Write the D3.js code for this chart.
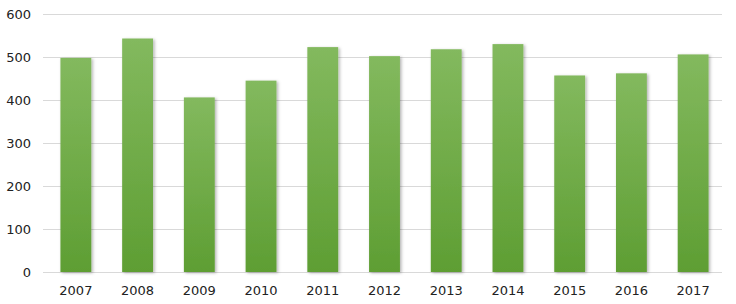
<!DOCTYPE html>
<html>
<head>
<meta charset="utf-8">
<script src="https://cdn.jsdelivr.net/npm/d3@7"></script>
<style>
  body { margin: 0; background: #fff; }
  svg text { font-family: "DejaVu Sans", Verdana, sans-serif; font-size: 13px; fill: #222; }
</style>
</head>
<body>
<div id="chart"></div>
<script>
const years = ["2007","2008","2009","2010","2011","2012","2013","2014","2015","2016","2017"]
const values = [498, 543, 406, 445, 523, 502, 518, 530, 457, 462, 506]
const yTicks = [0, 100, 200, 300, 400, 500, 600]

const width = 736, height = 304
const margin = {top: 14, right: 14, bottom: 32, left: 43}

const svg = d3.select("#chart").append("svg")
    .attr("width", width)
    .attr("height", height)

const defs = svg.append("defs")
const grad = defs.append("linearGradient")
    .attr("id", "barGrad")
    .attr("x1", 0).attr("y1", 0).attr("x2", 0).attr("y2", 1)
grad.append("stop").attr("offset", "0%").attr("stop-color", "#83b95e")
grad.append("stop").attr("offset", "100%").attr("stop-color", "#5e9e33")

const shadow = defs.append("filter").attr("id", "shadow")
    .attr("x", "-20%").attr("y", "-5%").attr("width", "150%").attr("height", "115%")
shadow.append("feDropShadow")
    .attr("dx", 1.5).attr("dy", 1).attr("stdDeviation", 1.5)
    .attr("flood-color", "#000").attr("flood-opacity", 0.3)

// bars sit a touch right of the gridline span
const x = d3.scaleBand()
    .domain(years)
    .range([margin.left + 2, width - margin.right + 2])
    .paddingInner(0.5)
    .paddingOuter(0.25)

const y = d3.scaleLinear()
    .domain([0, 600])
    .range([height - margin.bottom, margin.top])

// gridlines
svg.append("g")
    .selectAll("line")
    .data(yTicks)
    .join("line")
    .attr("x1", margin.left)
    .attr("x2", width - margin.right)
    .attr("y1", d => Math.round(y(d)) + 0.5)
    .attr("y2", d => Math.round(y(d)) + 0.5)
    .attr("stroke", "#d9d9d9")

// y labels
svg.append("g")
    .selectAll("text")
    .data(yTicks)
    .join("text")
    .attr("x", 31)
    .attr("y", d => y(d))
    .attr("dy", "0.35em")
    .attr("text-anchor", "end")
    .text(d => d)

// bars
svg.append("g")
    .selectAll("rect")
    .data(values)
    .join("rect")
    .attr("x", (d, i) => x(years[i]))
    .attr("y", d => y(d))
    .attr("width", x.bandwidth())
    .attr("height", d => y(0) - y(d))
    .attr("fill", "url(#barGrad)")
    .attr("filter", "url(#shadow)")

// x labels
svg.append("g")
    .selectAll("text")
    .data(years)
    .join("text")
    .attr("x", d => x(d) + x.bandwidth() / 2)
    .attr("y", 290)
    .attr("dy", "0.35em")
    .attr("text-anchor", "middle")
    .text(d => d)
</script>
</body>
</html>
